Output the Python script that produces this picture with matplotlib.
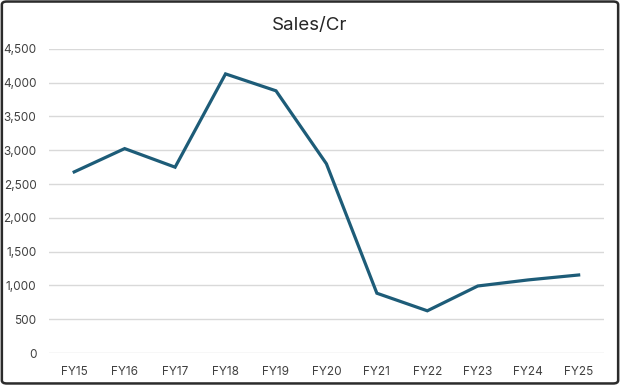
import matplotlib
matplotlib.use("Agg")
import matplotlib.pyplot as plt
from matplotlib.patches import FancyBboxPatch

categories = ["FY15", "FY16", "FY17", "FY18", "FY19", "FY20", "FY21", "FY22", "FY23", "FY24", "FY25"]
sales = [2680, 3025, 2750, 4130, 3880, 2800, 885, 625, 992, 1082, 1155]
yticks = [0, 500, 1000, 1500, 2000, 2500, 3000, 3500, 4000, 4500]
title = "Sales/Cr"

plt.rcParams['font.family'] = ['Inter', 'DejaVu Sans']

fig = plt.figure(figsize=(6.2, 3.85), dpi=100)
ax = fig.add_axes([0.079, 0.083, 0.895, 0.790])

x = list(range(len(categories)))
ax.plot(x, sales, color="#1d5c78", linewidth=2.3, solid_joinstyle="miter")

ax.set_xlim(-0.5, len(categories) - 0.5)
ax.set_ylim(0, 4500)
ax.set_yticks(yticks)
ax.set_yticklabels([f"{v:,}" for v in yticks])
ax.set_xticks(x)
ax.set_xticklabels(categories)
ax.tick_params(axis="both", length=0, labelsize=8.5, labelcolor="#404040")
ax.tick_params(axis="x", pad=9)
ax.tick_params(axis="y", pad=9)
ax.grid(axis="y", color="#d9d9d9", linewidth=1)
ax.set_axisbelow(True)
for s in ax.spines.values():
    s.set_visible(False)

fig.text(0.5, 0.935, title, ha="center", va="center", fontsize=13.5, color="#262626")

border = FancyBboxPatch((0.003, 0.004), 0.994, 0.992, boxstyle="round,pad=0,rounding_size=0.008",
                        transform=fig.transFigure, fill=False, edgecolor="#2b2b2b", linewidth=1.8)
fig.patches.append(border)

fig.savefig("out.png", dpi=100)
